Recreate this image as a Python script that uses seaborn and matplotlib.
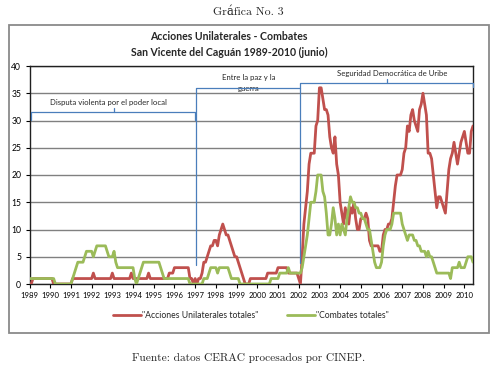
import matplotlib
matplotlib.use("Agg")
import numpy as np
import pandas as pd
import seaborn as sns
import matplotlib.pyplot as plt
from matplotlib.patches import Rectangle

# ---------------- data (monthly, Jan 1989 - Jun 2010) ----------------
years = list(range(1989, 2011))
year_labels = [str(y) for y in years]

acciones = [
    0, 0, 1, 1, 1, 1, 1, 1, 1, 1, 1, 1,          # 1989
    1, 1, 0, 0, 0, 0, 0, 0, 0, 0, 0, 0,          # 1990
    0, 1, 1, 1, 1, 1, 1, 1, 1, 1, 1, 1,          # 1991
    1, 2, 1, 1, 1, 1, 1, 1, 1, 1, 1, 1,          # 1992
    2, 1, 1, 1, 1, 1, 1, 1, 1, 1, 1, 2,          # 1993
    1, 1, 1, 1, 1, 1, 1, 1, 1, 2, 1, 1,          # 1994
    1, 1, 1, 1, 1, 1, 1, 1, 1, 2, 2, 2,          # 1995
    3, 3, 3, 3, 3, 3, 3, 3, 3, 1, 1, 0,          # 1996
    1, 0, 1, 1, 2, 4, 4, 5, 6, 7, 7, 8,          # 1997
    8, 7, 9, 10, 11, 10, 9, 9, 8, 7, 6, 5,       # 1998
    5, 4, 3, 2, 1, 0, 0, 0, 1, 1, 1, 1,          # 1999
    1, 1, 1, 1, 1, 1, 2, 2, 2, 2, 2, 2,          # 2000
    3, 3, 3, 3, 3, 3, 2, 2, 2, 2, 2, 2,          # 2001
    1, 0, 5, 11, 14, 17, 22, 24, 24, 24, 29, 30, # 2002
    36, 36, 34, 32, 32, 31, 27, 25, 24, 27, 22, 20,  # 2003
    15, 13, 11, 14, 12, 11, 14, 13, 15, 12, 10, 10,  # 2004
    12, 12, 12, 13, 12, 8, 7, 7, 7, 7, 7, 6,         # 2005
    6, 9, 10, 10, 11, 11, 12, 15, 18, 20, 20, 20,    # 2006
    21, 24, 25, 29, 28, 31, 32, 30, 29, 28, 32, 33,  # 2007
    35, 33, 31, 24, 24, 23, 20, 17, 14, 16, 16, 15,  # 2008
    14, 13, 17, 21, 23, 24, 26, 24, 22, 24, 26, 27,  # 2009
    28, 26, 24, 24, 28, 29,                          # 2010 (ene-jun)
]

combates = [
    1, 1, 1, 1, 1, 1, 1, 1, 1, 1, 1, 1,          # 1989
    1, 1, 1, 0, 0, 0, 0, 0, 0, 0, 0, 0,          # 1990
    0, 1, 2, 3, 4, 4, 4, 4, 5, 6, 6, 6,          # 1991
    6, 5, 6, 7, 7, 7, 7, 7, 7, 6, 5, 5,          # 1992
    5, 6, 4, 3, 3, 3, 3, 3, 3, 3, 3, 3,          # 1993
    3, 1, 0, 1, 2, 3, 4, 4, 4, 4, 4, 4,          # 1994
    4, 4, 4, 4, 3, 2, 1, 1, 1, 1, 1, 1,          # 1995
    1, 1, 1, 1, 1, 1, 1, 1, 1, 0, 0, 0,          # 1996
    0, 0, 0, 0, 0, 1, 1, 1, 2, 3, 3, 3,          # 1997
    3, 2, 3, 3, 3, 3, 3, 3, 2, 1, 1, 1,          # 1998
    1, 1, 0, 0, 0, 0, 0, 0, 0, 0, 0, 0,          # 1999
    0, 0, 0, 0, 0, 0, 0, 0, 1, 1, 1, 1,          # 2000
    1, 2, 2, 2, 2, 2, 3, 2, 2, 2, 2, 2,          # 2001
    2, 2, 3, 5, 7, 9, 12, 15, 15, 15, 17, 20,    # 2002
    20, 20, 17, 16, 13, 9, 9, 11, 14, 12, 9, 11, # 2003
    9, 11, 10, 9, 12, 14, 16, 15, 15, 14, 14, 13,  # 2004
    13, 12, 12, 11, 10, 10, 8, 6, 4, 3, 3, 3,      # 2005
    4, 7, 9, 10, 10, 10, 11, 13, 13, 13, 13, 13,   # 2006
    11, 10, 9, 8, 9, 9, 9, 8, 8, 7, 7, 6,          # 2007
    6, 6, 5, 6, 5, 5, 4, 3, 2, 2, 2, 2,            # 2008
    2, 2, 2, 2, 1, 3, 3, 3, 3, 4, 3, 3,            # 2009
    3, 4, 5, 5, 5, 4,                              # 2010 (ene-jun)
]

series_names = ['"Acciones Unilaterales totales"', '"Combates totales"']
series_colors = ["#c0504d", "#9bbb59"]

periods = ["Disputa violenta por el poder local", "Entre la paz y la\nguerra",
           "Seguridad Democrática de Uribe"]

# ---------------- style ----------------
sns.set_theme(style="white")
plt.rcParams["font.family"] = ["Lato", "DejaVu Sans"]

W, H = 497, 370
fig = plt.figure(figsize=(W / 100, H / 100), dpi=100)
fig.patch.set_facecolor("white")

def fx(px):
    return px / W

def fy(py):
    return 1 - py / H

# outer chart box
fig.patches.append(Rectangle((fx(9), fy(333)), fx(489) - fx(9), fy(25) - fy(333),
                             transform=fig.transFigure, fill=False,
                             edgecolor="#8a8a8a", linewidth=1.3, zorder=0))

ax = fig.add_axes([fx(29.5), fy(284), fx(473) - fx(29.5), fy(66) - fy(284)])

n = len(acciones)
df = pd.DataFrame({
    "mes": list(range(n)) * 2,
    "valor": acciones + combates,
    "serie": [series_names[0]] * n + [series_names[1]] * n,
})
sns.lineplot(data=df, x="mes", y="valor", hue="serie", palette=series_colors,
             linewidth=2.0, legend=False, ax=ax, zorder=3)

ax.set_xlim(0, n - 1)
ax.set_ylim(0, 40)
ax.set_yticks(range(0, 41, 5))
ax.set_xticks([12 * i for i in range(len(years))])
ax.set_xticklabels(year_labels)
ax.set_xlabel("")
ax.set_ylabel("")
ax.tick_params(axis="x", labelsize=5.6, length=3, width=0.8, pad=3, colors="black",
               direction="out", bottom=True)
ax.tick_params(axis="y", labelsize=6.2, length=3, width=0.8, pad=3, colors="black",
               direction="out", left=True)
ax.grid(axis="y", color="#808080", linewidth=1.0)
ax.set_axisbelow(True)
for s in ax.spines.values():
    s.set_color("#202020")
    s.set_linewidth(1.0)

# ---------------- period brackets ----------------
bc = "#4a7ebb"
kw = dict(color=bc, linewidth=0.9, clip_on=False, zorder=4, solid_joinstyle="round")
y1997 = 96.5
y2002 = 156.5
end = n - 1
# bracket 1
ax.plot([0.6, 0.6, y1997 - 0.6, y1997 - 0.6], [30.1, 31.6, 31.6, 30.1], **kw)
ax.plot([49, 49], [31.6, 32.3], **kw)
ax.text(46, 33.3, periods[0], ha="center", va="center", fontsize=5.6)
# bracket 2
ax.plot([y1997, y1997, y2002], [3.5, 35.9, 35.9], **kw)
ax.text(127, 37.8, periods[1].split("\n")[0], ha="center", va="center", fontsize=5.6)
ax.text(127, 35.8, periods[1].split("\n")[1], ha="center", va="center", fontsize=5.6)
# bracket 3
ax.plot([y2002, y2002, end, end], [3.9, 36.9, 36.9, 36.2], **kw)
ax.plot([207, 207], [36.9, 37.6], **kw)
ax.text(210, 38.7, periods[2], ha="center", va="center", fontsize=5.6)

# ---------------- titles ----------------
fig.text(0.5, fy(12), "Gráfica No. 3", ha="center", va="center", fontsize=8.5,
         family=["cmr10", "DejaVu Serif"])
fig.text(fx(229), fy(37), "Acciones Unilaterales - Combates", ha="center", va="center",
         fontsize=7.6, fontweight="bold")
fig.text(fx(229), fy(52), "San Vicente del Caguán 1989-2010 (junio)", ha="center",
         va="center", fontsize=7.6, fontweight="bold")
fig.text(0.5, fy(358), "Fuente: datos CERAC procesados por CINEP.", ha="center",
         va="center", fontsize=8.2, family=["cmr10", "DejaVu Serif"])

# ---------------- legend ----------------
fig.legend(handles=ax.lines[:2], labels=series_names, loc="center",
           bbox_to_anchor=(fx(251), fy(316)), ncol=2, frameon=False, fontsize=6.2,
           handlelength=3.2, handletextpad=0.1, columnspacing=3.4)

fig.savefig("out.png", dpi=100, facecolor="white")
